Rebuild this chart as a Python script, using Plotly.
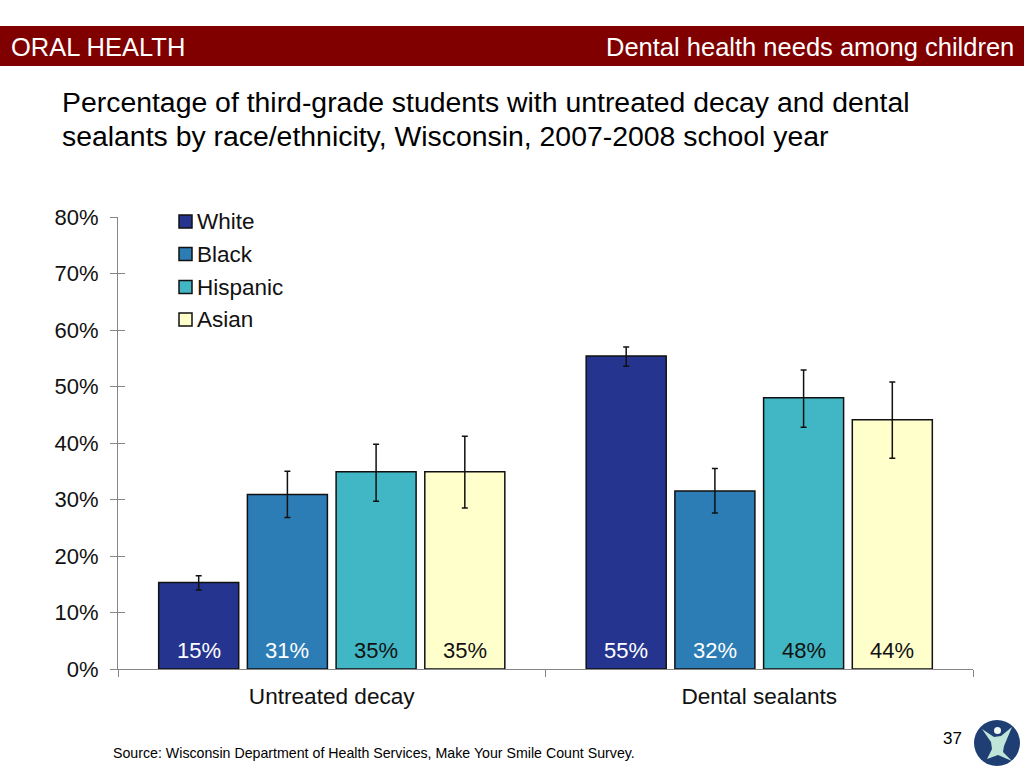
import plotly.graph_objects as go

# chart data
categories = ["Untreated decay", "Dental sealants"]
groups = ["White", "Black", "Hispanic", "Asian"]
white = [15.3, 55.4]
black = [30.9, 31.5]
hispanic = [34.9, 48.0]
asian = [34.9, 44.1]
white_hi = [16.5, 57.0]
black_hi = [35.0, 35.5]
hispanic_hi = [39.8, 52.9]
asian_hi = [41.2, 50.8]
white_lo = [14.0, 53.6]
black_lo = [26.8, 27.6]
hispanic_lo = [29.7, 42.8]
asian_lo = [28.5, 37.3]
white_labels = ["15%", "55%"]
black_labels = ["31%", "32%"]
hispanic_labels = ["35%", "48%"]
asian_labels = ["35%", "44%"]
y_ticks = [0, 10, 20, 30, 40, 50, 60, 70, 80]
y_tick_labels = ["0%", "10%", "20%", "30%", "40%", "50%", "60%", "70%", "80%"]

W, H = 1024, 768
FONT = "Liberation Sans"
INK = "#111111"
AXIS = "#868686"
BARGAP = 0.17


def px(x):
    return x / W


def py(y):
    return 1 - y / H


series = [
    (white, white_hi, white_lo, white_labels, "#25358F", "#FFFFFF"),
    (black, black_hi, black_lo, black_labels, "#2C7DB6", "#FFFFFF"),
    (hispanic, hispanic_hi, hispanic_lo, hispanic_labels, "#41B6C4", INK),
    (asian, asian_hi, asian_lo, asian_labels, "#FFFFCC", INK),
]

fig = go.Figure()
annotations = []
shapes = [
    dict(type="rect", xref="paper", yref="paper", x0=0, x1=1, y0=py(66), y1=py(26),
         fillcolor="#800000", line=dict(width=0), layer="below"),
]
legend_rows = [221.5, 254, 287, 319.5]
slot = (1 - BARGAP) / len(groups)

for k, (name, (vals, hi, lo, labels, color, text_color)) in enumerate(zip(groups, series)):
    fig.add_trace(go.Bar(
        x=categories, y=vals, name=name, showlegend=False,
        marker=dict(color=color, line=dict(color=INK, width=1.5)),
        error_y=dict(type="data", symmetric=False,
                     array=[h - v for h, v in zip(hi, vals)],
                     arrayminus=[v - l for v, l in zip(vals, lo)],
                     color=INK, thickness=1.5, width=3),
    ))
    # value labels sit just above the base of each bar
    for i, label in enumerate(labels):
        annotations.append(dict(text=label, x=i + (k - 1.5) * slot, y=3.2, xref="x", yref="y",
                                showarrow=False, yanchor="middle",
                                font=dict(size=22, color=text_color)))
    # hand placed legend, closer swatch-to-text gap than the built in one
    row = legend_rows[k]
    shapes.append(dict(type="rect", xref="paper", yref="paper", x0=px(179), x1=px(192),
                       y0=py(row + 6.5), y1=py(row - 6.5), fillcolor=color, line=dict(color=INK, width=1.5)))
    annotations.append(dict(text=name, xref="paper", yref="paper", x=px(195), y=py(row), xanchor="left",
                            yanchor="middle", showarrow=False, font=dict(size=22.5, color=INK)))

# second axis only to draw the inner half of the y ticks
fig.add_trace(go.Scatter(x=categories, y=[0, 0], yaxis="y2", mode="markers",
                         marker=dict(opacity=0), showlegend=False, hoverinfo="skip"))

# logo
shapes += [
    dict(type="circle", xref="paper", yref="paper", x0=px(974), x1=px(1020), y0=py(766), y1=py(720),
         fillcolor="#1F3E73", line=dict(width=0)),
    dict(type="circle", xref="paper", yref="paper", x0=px(994), x1=px(1001), y0=py(734), y1=py(727),
         fillcolor="#F2F8F4", line=dict(width=0)),
    dict(type="path", xref="paper", yref="paper", fillcolor="#BFE5D8", line=dict(width=0),
         path="M {} {} L {} {} L {} {} L {} {} L {} {} L {} {} L {} {} L {} {} L {} {} L {} {} L {} {} Z".format(
             px(982), py(729), px(994), py(737), px(1001), py(736), px(1012), py(727), px(1004), py(746),
             px(1003), py(752), px(1012), py(761), px(998), py(755), px(987), py(759), px(992), py(749),
             px(991), py(742))),
]

annotations += [
    dict(text="ORAL HEALTH", xref="paper", yref="paper", x=px(9), y=py(47), xanchor="left",
         yanchor="middle", showarrow=False, font=dict(size=25.5, color="white")),
    dict(text="Dental health needs among children", xref="paper", yref="paper", x=px(1016), y=py(47),
         xanchor="right", yanchor="middle", showarrow=False, font=dict(size=25.5, color="white")),
    dict(text="Percentage of third-grade students with untreated decay and dental",
         xref="paper", yref="paper", x=px(60), y=py(102), xanchor="left", yanchor="middle", align="left",
         showarrow=False, font=dict(size=28.4, color="#000000")),
    dict(text="sealants by race/ethnicity, Wisconsin, 2007-2008 school year",
         xref="paper", yref="paper", x=px(60), y=py(136), xanchor="left", yanchor="middle", align="left",
         showarrow=False, font=dict(size=28.4, color="#000000")),
    dict(text="Source: Wisconsin Department of Health Services, Make Your Smile Count Survey.",
         xref="paper", yref="paper", x=px(111), y=py(753), xanchor="left", yanchor="middle",
         showarrow=False, font=dict(size=14.2, color="#000000")),
    dict(text="37", xref="paper", yref="paper", x=px(964), y=py(738), xanchor="right", yanchor="middle",
         showarrow=False, font=dict(size=17, color="#000000")),
]

fig.update_layout(
    width=W, height=H, autosize=False,
    margin=dict(l=0, r=0, t=0, b=0, autoexpand=False),
    paper_bgcolor="white", plot_bgcolor="white",
    font=dict(family=FONT, color=INK, size=22),
    barmode="group", bargap=BARGAP, bargroupgap=0.098,
    showlegend=False,
    xaxis=dict(domain=[px(118), px(973)], tickson="boundaries", ticks="outside", ticklen=7,
               tickcolor=AXIS, linecolor=AXIS, linewidth=1, showline=True, showgrid=False,
               tickfont=dict(size=22.6), anchor="y", ticklabelstandoff=7),
    yaxis=dict(domain=[py(669), py(217)], range=[0, 80], tickvals=y_ticks, ticktext=y_tick_labels,
               ticks="outside", ticklen=7, tickcolor=AXIS, linecolor=AXIS, linewidth=1,
               showline=True, showgrid=False, zeroline=False, tickfont=dict(size=22), ticklabelstandoff=7),
    yaxis2=dict(domain=[py(669), py(217)], range=[0, 80], overlaying="y", side="left",
                tickvals=y_ticks, ticks="inside", ticklen=7, tickcolor=AXIS, showticklabels=False,
                showline=False, showgrid=False, zeroline=False),
    shapes=shapes,
    annotations=annotations,
)

fig.write_html("out.html", config={"displayModeBar": False}, post_script="document.body.style.margin='0';")
